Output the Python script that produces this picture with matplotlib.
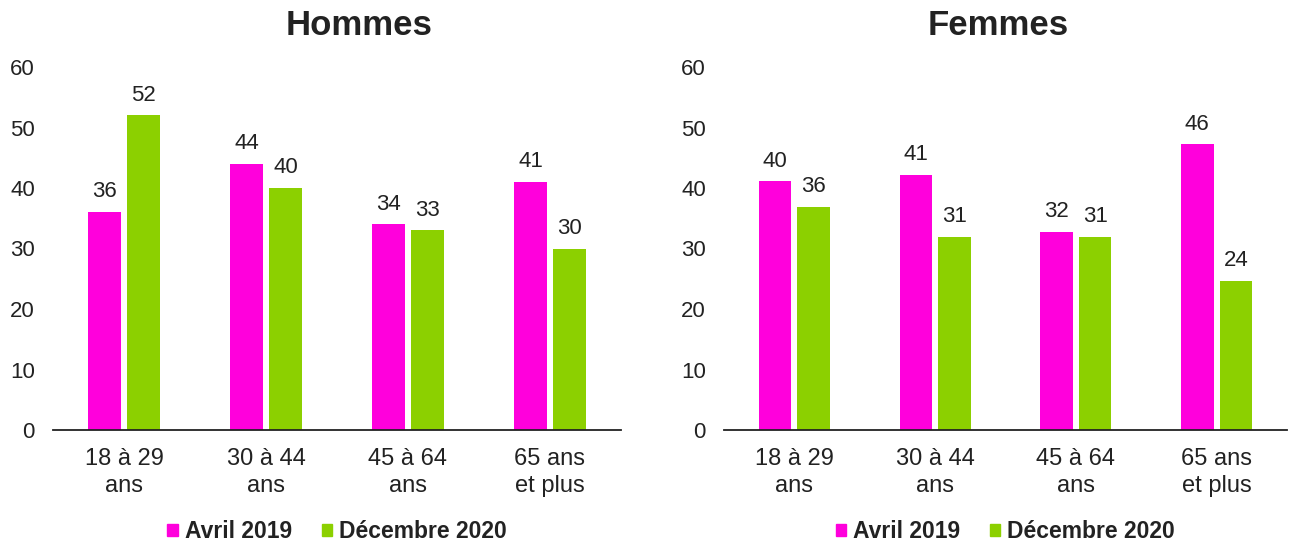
import matplotlib
matplotlib.use("Agg")
import matplotlib.pyplot as plt
import numpy as np
from matplotlib.patches import Patch

plt.rcParams['font.family'] = ['Liberation Sans', 'DejaVu Sans']

categories = ["18 à 29\nans", "30 à 44\nans", "45 à 64\nans", "65 ans\net plus"]
series_names = ["Avril 2019", "Décembre 2020"]

hommes_avril = [36, 44, 34, 41]
hommes_dec = [52, 40, 33, 30]
hommes_avril_labels = ["36", "44", "34", "41"]
hommes_dec_labels = ["52", "40", "33", "30"]

femmes_avril = [41.1, 42.2, 32.7, 47.2]
femmes_dec = [36.9, 31.9, 31.9, 24.6]
femmes_avril_labels = ["40", "41", "32", "46"]
femmes_dec_labels = ["36", "31", "31", "24"]

yticks = [0, 10, 20, 30, 40, 50, 60]

MAGENTA = "#FF00DC"
GREEN = "#8CD000"
TXT = "#222222"

fig = plt.figure(figsize=(12.91, 5.44), dpi=100)

W, H = 1291, 544
def axrect(x0, x1, ybase, ytop):
    return [x0 / W, 1 - ybase / H, (x1 - x0) / W, (ybase - ytop) / H]

ax1 = fig.add_axes(axrect(53, 621, 430, 67))
ax2 = fig.add_axes(axrect(724, 1287, 430, 67))

bw = 0.23
off = 0.137

def draw(ax, title, title_x, a, d, al, dl):
    x = np.arange(len(categories))
    b1 = ax.bar(x - off, a, width=bw, color=MAGENTA, zorder=2)
    b2 = ax.bar(x + off, d, width=bw, color=GREEN, zorder=2)
    for bars, labs in ((b1, al), (b2, dl)):
        for rect, lab in zip(bars, labs):
            ax.annotate(lab, (rect.get_x() + rect.get_width() / 2, rect.get_height()),
                        xytext=(0, 7), textcoords="offset points",
                        ha="center", va="bottom", fontsize=16, color=TXT)
    ax.set_xlim(-0.5, len(categories) - 0.5)
    ax.set_ylim(0, 60)
    ax.set_yticks(yticks)
    ax.set_yticklabels([str(t) for t in yticks], fontsize=16, color=TXT)
    ax.set_xticks(x)
    ax.set_xticklabels(categories, fontsize=17, color=TXT, linespacing=1.3)
    ax.tick_params(axis="y", length=0, pad=13)
    ax.tick_params(axis="x", length=0, pad=13)
    for s in ("left", "right", "top"):
        ax.spines[s].set_visible(False)
    ax.spines["bottom"].set_color("#222222")
    ax.spines["bottom"].set_linewidth(1.3)
    ax.set_title(title, fontsize=25, fontweight="bold", color=TXT, pad=23, x=title_x)
    handles = [Patch(color=MAGENTA), Patch(color=GREEN)]
    leg = ax.legend(handles, series_names, loc="center", bbox_to_anchor=(0.5, -0.28),
                    ncol=2, frameon=False, handlelength=0.45, handleheight=0.45,
                    handletextpad=0.3, columnspacing=1.3,
                    prop={"weight": "bold", "size": 16.5})
    for t in leg.get_texts():
        t.set_color(TXT)

draw(ax1, "Hommes", 0.539, hommes_avril, hommes_dec, hommes_avril_labels, hommes_dec_labels)
draw(ax2, "Femmes", 0.487, femmes_avril, femmes_dec, femmes_avril_labels, femmes_dec_labels)

fig.savefig("out.png", dpi=100)
